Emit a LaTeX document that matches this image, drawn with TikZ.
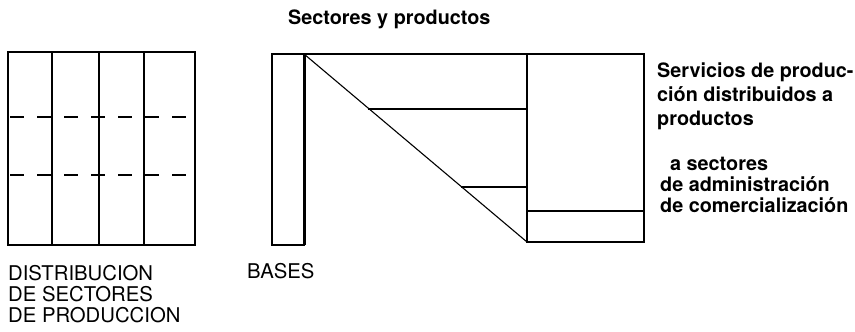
\documentclass[tikz,border=0pt]{standalone}
\usepackage{fontspec}
\setmainfont{TeX Gyre Heros}
\begin{document}
\begin{tikzpicture}[x=1pt,y=-1pt,
  ln/.style={line width=1.1pt,line cap=rect},
  thickln/.style={line width=3pt},
  dashln/.style={line width=1.3pt,dash pattern=on 14pt off 13pt},
  lbl/.style={inner sep=0pt,anchor=base west,font=\fontsize{19.8}{24}\selectfont\bfseries},
  caps/.style={inner sep=0pt,anchor=base west,font=\fontsize{20.3}{21}\selectfont}]
\useasboundingbox (0,0) rectangle (855,332);
% grid (left)
\coordinate (g1) at (8,52);
\coordinate (g2) at (195,245);
\draw[ln] (g1) rectangle (g2);
\foreach \x in {52,99,144} \draw[ln] (\x,52) -- (\x,245);
\foreach \y in {117,175} \draw[dashln] (10,\y) -- (195,\y);
% bases
\coordinate (b1) at (272,54);
\coordinate (b2) at (304,245);
\coordinate (tl) at (304,54);
\coordinate (tr) at (644,54);
\coordinate (m1) at (527,54);
\coordinate (m2) at (527,242);
\coordinate (br) at (644,242);
\coordinate (lr) at (527,211);
\coordinate (lr2) at (644,211);
\coordinate (d1) at (369,109);
\coordinate (e1) at (527,109);
\coordinate (d2) at (462,187);
\coordinate (e2) at (527,187);
\draw[ln] (b1) rectangle (b2);
\draw[thickln] (tl) -- (304,245);
\draw[ln] (tl) -- (tr) -- (br) -- (m2) -- (m1);
\draw[ln] (lr) -- (lr2);
\draw[ln] (tl) -- (m2);
\draw[ln] (d1) -- (e1);
\draw[ln] (d2) -- (e2);
% texts
\node[lbl] (t0) at (288,24) {Sectores y productos};
\node[lbl] (r1) at (657,77) {Servicios de produc-};
\node[lbl] (r2) at (657,101) {ción distribuidos a};
\node[lbl] (r3) at (657,125) {productos};
\node[lbl] (r4) at (670,170) {a sectores};
\node[lbl] (r5) at (660,191) {de administración};
\node[lbl] (r6) at (660,212) {de comercialización};
\node[caps] (c1) at (8,280) {DISTRIBUCION};
\node[caps] (c2) at (8,301) {DE SECTORES};
\node[caps] (c3) at (8,322) {DE PRODUCCION};
\node[caps] (c4) at (247,278) {BASES};
\end{tikzpicture}
\end{document}
